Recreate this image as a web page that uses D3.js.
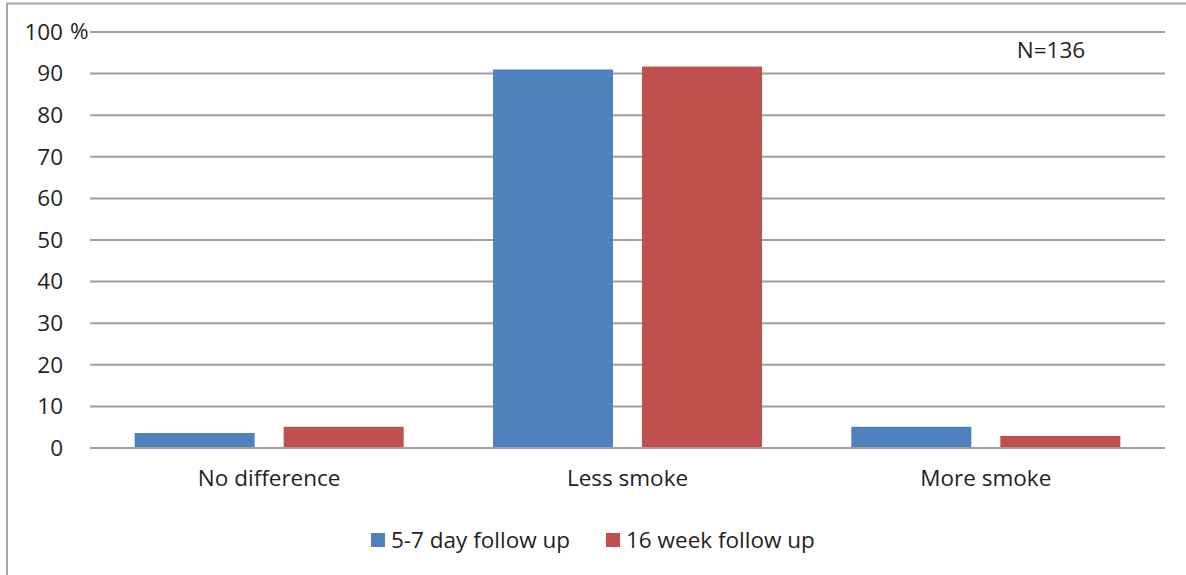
<!DOCTYPE html>
<html>
<head>
<meta charset="utf-8">
<script src="https://cdn.jsdelivr.net/npm/d3@7"></script>
<style>
  body { margin: 0; background: #fff; }
  svg text { font-family: "Open Sans", "Noto Sans", sans-serif; fill: #1f1f1f; }
</style>
</head>
<body>
<div id="area"></div>
<script>
const categories = ["No difference", "Less smoke", "More smoke"];
const seriesNames = ["5-7 day follow up", "16 week follow up"];
const dayValues = [3.6, 91.0, 5.1];
const weekValues = [5.1, 91.7, 2.9];
const yTicks = [0, 10, 20, 30, 40, 50, 60, 70, 80, 90, 100];
const colors = ["#4f81bd", "#c0504d"];

const width = 1186;
const height = 575;
const margin = { top: 32, right: 21, bottom: 127, left: 90 };
const fontSize = 22.5;

const data = categories.map((c, i) => ({ cat: c, values: [dayValues[i], weekValues[i]] }));

const svg = d3
  .select("#area")
  .append("svg")
  .attr("width", width)
  .attr("height", height);

// outer chart border (only top and left visible)
svg
  .append("rect")
  .attr("x", 7)
  .attr("y", 3.5)
  .attr("width", width + 20)
  .attr("height", height + 20)
  .attr("fill", "none")
  .attr("stroke", "#a6a6a6")
  .attr("stroke-width", 2);

const x0 = d3
  .scaleBand()
  .domain(categories)
  .range([margin.left, width - margin.right])
  .padding(0);

const x1 = d3
  .scaleBand()
  .domain([0, 1])
  .range([0, x0.bandwidth()])
  .paddingInner(0.1946)
  .paddingOuter(0.2996);

const y = d3
  .scaleLinear()
  .domain([0, 100])
  .range([height - margin.bottom, margin.top]);

// gridlines
svg
  .append("g")
  .selectAll("line")
  .data(yTicks)
  .join("line")
  .attr("x1", margin.left)
  .attr("x2", width - margin.right)
  .attr("y1", (d) => y(d))
  .attr("y2", (d) => y(d))
  .attr("stroke", "#a0a0a0")
  .attr("stroke-width", 2);

// y-axis labels
const yAxis = svg
  .append("g")
  .attr("transform", `translate(${margin.left}, 0)`)
  .call(d3.axisLeft(y).tickValues(yTicks).tickSize(0).tickPadding(27));
yAxis.select(".domain").remove();
yAxis.selectAll("text").attr("font-size", fontSize).style("font-family", '"Open Sans", sans-serif').attr("fill", "#1f1f1f");

svg
  .append("text")
  .attr("x", 70)
  .attr("y", y(100))
  .attr("dy", "0.32em")
  .attr("font-size", fontSize)
  .text("%");

// bars
const groups = svg
  .append("g")
  .selectAll("g")
  .data(data)
  .join("g")
  .attr("transform", (d) => `translate(${x0(d.cat)}, 0)`);

groups
  .selectAll("rect")
  .data((d) => d.values)
  .join("rect")
  .attr("x", (d, i) => x1(i))
  .attr("y", (d) => y(d))
  .attr("width", x1.bandwidth())
  .attr("height", (d) => y(0) - y(d))
  .attr("fill", (d, i) => colors[i]);

// baseline
svg
  .append("line")
  .attr("x1", margin.left)
  .attr("x2", width - margin.right)
  .attr("y1", y(0))
  .attr("y2", y(0))
  .attr("stroke", "#a0a0a0")
  .attr("stroke-width", 2);

// category labels
const xAxis = svg
  .append("g")
  .attr("transform", `translate(0, ${y(0)})`)
  .call(d3.axisBottom(x0).tickSize(0).tickPadding(22));
xAxis.select(".domain").remove();
xAxis.selectAll("text").attr("font-size", fontSize).style("font-family", '"Open Sans", sans-serif').attr("fill", "#1f1f1f");

// N annotation
svg
  .append("text")
  .attr("x", 1051)
  .attr("y", 50)
  .attr("dy", "0.35em")
  .attr("text-anchor", "middle")
  .attr("font-size", fontSize)
  .text("N=136");

// legend
const legendX = [371, 606];
const legend = svg
  .append("g")
  .selectAll("g")
  .data(seriesNames)
  .join("g")
  .attr("transform", (d, i) => `translate(${legendX[i]}, 540)`);

legend
  .append("rect")
  .attr("x", 0)
  .attr("y", -7)
  .attr("width", 14)
  .attr("height", 14)
  .attr("fill", (d, i) => colors[i]);

legend
  .append("text")
  .attr("x", 20)
  .attr("y", 0)
  .attr("dy", "0.35em")
  .attr("font-size", fontSize)
  .text((d) => d);
</script>
</body>
</html>
